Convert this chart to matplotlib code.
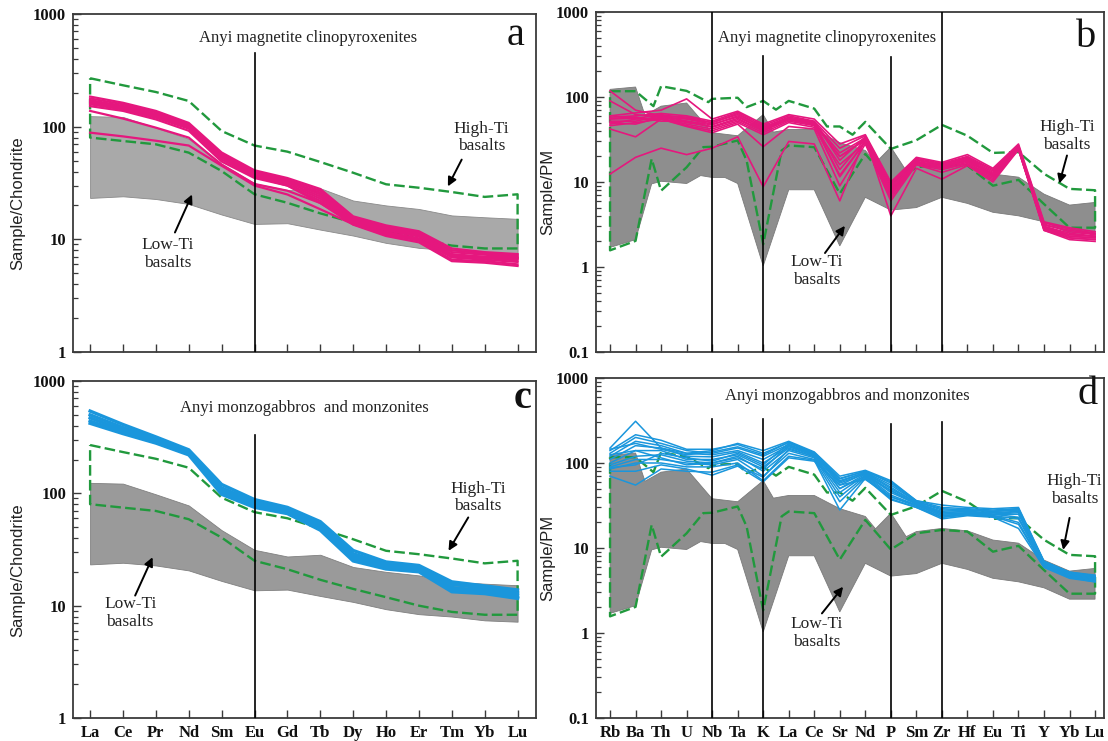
import numpy as np
import matplotlib
matplotlib.use("Agg")
import matplotlib.pyplot as plt
from matplotlib import ticker

# ---------------------------------------------------------------- data
REE = ["La", "Ce", "Pr", "Nd", "Sm", "Eu", "Gd", "Tb", "Dy", "Ho", "Er", "Tm", "Yb", "Lu"]
SPIDER = ["Rb", "Ba", "Th", "U", "Nb", "Ta", "K", "La", "Ce", "Sr", "Nd", "P",
          "Sm", "Zr", "Hf", "Eu", "Ti", "Y", "Yb", "Lu"]

# Chondrite-normalised fields of Emeishan basalts
high_ti_ree_upper = [269, 233, 203, 169, 91.5, 68, 60, 48.6, 39, 30.8, 28.7, 26.3, 23.8, 25.1]
high_ti_ree_lower = [80, 74.6, 69.7, 58.8, 40.4, 25.1, 21.1, 17, 14.1, 11.9, 10, 8.8, 8.3, 8.3]
low_ti_ree_upper = [124, 122, 98, 78, 47, 31.4, 27.4, 28.4, 22.1, 20, 18.6, 16.3, 15.7, 15.2]
low_ti_ree_lower = [23.3, 24.1, 22.8, 20.6, 16.6, 13.7, 13.9, 12.2, 10.8, 9.3, 8.4, 8.0, 7.4, 7.2]

# Primitive-mantle-normalised fields (element index, value)
high_ti_pm_upper_x = [0, 1, 1.7, 2, 3, 3.85, 4, 5, 5.35, 6, 6.5, 7, 8, 8.5, 9, 9.5, 10, 11, 12, 13, 14, 15, 16, 17, 18, 19]
high_ti_pm_upper = [117, 117, 78, 134, 118, 87, 95, 98, 76, 90, 71, 90, 73, 45, 45, 36, 51, 24.5, 31, 47, 35, 22, 22.5, 12.5, 8.3, 8.0]
high_ti_pm_lower_x = [0, 1, 1.63, 2, 3, 3.65, 4, 5, 5.35, 6, 6.72, 7, 8, 9, 10, 11, 12, 13, 14, 15, 16, 17, 18, 19]
high_ti_pm_lower = [1.57, 2.03, 18.7, 7.9, 14.9, 25.7, 26, 30.8, 17.9, 1.85, 23.5, 26.9, 25.7, 7.3, 21.4, 9.6, 14.9, 16.3, 15.6, 9.05, 10.6, 5.5, 2.9, 2.9]
low_ti_pm_upper_x = [0, 1, 1.37, 2, 3, 4, 5, 6, 6.4, 7, 8, 9, 10, 10.4, 11, 11.6, 12, 13, 14, 15, 16, 17, 18, 19]
low_ti_pm_upper = [123, 131, 61, 78, 85, 38, 35, 62, 38.6, 41.5, 41.5, 29, 23.5, 16.8, 25.7, 13.6, 15.6, 17, 15.9, 12.4, 11.4, 7.2, 5.35, 5.75]
low_ti_pm_lower_x = [0, 1, 1.63, 2, 3, 3.55, 4, 4.5, 5, 6, 7, 8, 9, 10, 11, 12, 13, 14, 15, 16, 17, 18, 19]
low_ti_pm_lower = [1.7, 2.1, 9.5, 10.2, 9.6, 11.9, 11.3, 11.3, 9.6, 1.03, 8.1, 8.1, 1.77, 6.6, 4.67, 5.0, 6.6, 5.6, 4.4, 4.0, 3.4, 2.5, 2.5]

# Anyi magnetite clinopyroxenites, REE / chondrite
cpx_ree = [
    [185, 163, 138, 108, 59, 41, 35, 28, 16.0, 13.3, 11.8, 8.3, 7.7, 7.4],
    [178, 158, 134, 105, 57, 40, 34, 27, 15.6, 13.0, 11.5, 8.0, 7.5, 7.2],
    [172, 153, 130, 103, 56, 39, 33, 26, 15.2, 12.6, 11.2, 7.7, 7.3, 7.0],
    [167, 149, 126, 100, 54, 38, 33, 25, 14.8, 12.3, 10.9, 7.4, 7.0, 6.7],
    [162, 145, 123, 98, 53, 37, 32, 24, 14.5, 12.0, 10.6, 7.1, 6.8, 6.5],
    [158, 142, 120, 96, 51, 36, 31, 23, 14.2, 11.6, 10.2, 6.9, 6.6, 6.3],
    [152, 138, 116, 92, 49, 35, 30, 22, 13.8, 11.2, 9.8, 6.6, 6.4, 6.0],
    [168, 150, 127, 101, 55, 36, 30, 21, 13.5, 10.7, 9.4, 6.4, 6.2, 5.8],
    [138, 118, 98, 80, 46, 31, 27, 21, 14.0, 11.5, 10.0, 7.0, 6.9, 6.8],
    [88.5, 82, 75, 68, 45, 30, 25, 18.5, 13.6, 11.0, 9.8, 7.2, 7.0, 6.9],
]

# Anyi magnetite clinopyroxenites, trace elements / primitive mantle
cpx_pm = [
    [118, 70, 60, 58, 50, 62, 44, 56, 50, 22, 33, 8.5, 18, 16, 19, 13, 26, 3.2, 2.6, 2.4],
    [90, 62, 58, 55, 48, 58, 42, 54, 48, 20, 32, 8.0, 17, 15.5, 18, 12.5, 25, 3.0, 2.5, 2.3],
    [58, 60, 64, 60, 52, 66, 46, 60, 52, 25, 35, 9.5, 19, 16.5, 20, 14, 27, 3.3, 2.8, 2.5],
    [55, 56, 62, 56, 50, 64, 44, 58, 51, 18, 34, 9.0, 18.5, 16, 19.5, 13.5, 26, 3.1, 2.7, 2.45],
    [52, 52, 60, 52, 47, 60, 42, 56, 49, 14, 32, 8.0, 17.5, 15.5, 18.5, 12.5, 25.5, 2.9, 2.4, 2.3],
    [50, 48, 58, 50, 45, 56, 40, 54, 47, 12, 30, 7.0, 17, 15, 17.5, 12, 25, 2.8, 2.3, 2.2],
    [48, 55, 56, 48, 42, 52, 38, 52, 46, 11.5, 30, 6.5, 16.5, 14.5, 17, 11.5, 24.5, 2.7, 2.2, 2.1],
    [46, 50, 55, 46, 40, 50, 36, 50, 44, 16, 29, 7.5, 16, 14, 16.5, 11, 24, 2.7, 2.1, 2.0],
    [42, 34, 55, 45, 38, 48, 26, 45, 42, 9.0, 28, 6.0, 16, 13, 16, 10.5, 24.5, 2.8, 2.2, 2.1],
    [12.4, 19.5, 25, 21, 25, 34, 8.8, 30, 28, 6.0, 33, 4.0, 14.5, 10.8, 15.6, 10, 24, 2.9, 2.3, 2.2],
    [60, 65, 70, 95, 55, 68, 48, 62, 55, 28, 36, 10, 19.5, 17, 21, 14.5, 28, 3.4, 2.9, 2.6],
    [56, 58, 52, 52, 44, 54, 40, 55, 50, 20, 31, 7.5, 17, 15, 18, 12, 25, 3.0, 2.4, 2.3],
]

# Anyi monzogabbros and monzonites, REE / chondrite
mz_ree = [
    [540, 410, 318, 244, 120, 88, 75, 56, 31, 24.5, 22.8, 16.3, 15.0, 13.8],
    [500, 385, 305, 235, 112, 84, 72, 53, 29, 23.5, 22, 15.5, 14.3, 13.0],
    [470, 365, 295, 230, 106, 80, 70, 51, 27.5, 22.5, 21, 14.5, 13.6, 12.4],
    [440, 350, 285, 225, 102, 77, 67, 48, 26, 21.8, 20.5, 13.8, 13.0, 11.8],
    [420, 340, 280, 220, 98, 75, 66, 47, 25, 21.2, 20, 13.3, 12.8, 11.6],
]

# Anyi monzogabbros and monzonites, trace elements / primitive mantle
mz_pm = [
    [150, 310, 150, 130, 140, 170, 140, 180, 135, 70, 82, 62, 36, 32, 30, 29, 30, 7.0, 5.2, 4.8],
    [140, 215, 185, 145, 145, 165, 130, 175, 130, 65, 80, 60, 36, 30, 29, 28, 29, 6.8, 5.1, 4.6],
    [130, 200, 170, 140, 130, 150, 120, 165, 128, 60, 78, 55, 35, 28, 28, 27, 28, 6.6, 5.0, 4.5],
    [120, 180, 160, 130, 125, 140, 110, 160, 125, 55, 76, 50, 34, 26, 27, 26, 27, 6.5, 4.9, 4.4],
    [110, 160, 150, 120, 118, 135, 100, 155, 122, 50, 74, 45, 33, 25, 26, 25, 26, 6.4, 4.8, 4.3],
    [100, 140, 140, 110, 110, 125, 90, 150, 118, 45, 72, 42, 32, 24, 25.5, 24.5, 25, 6.3, 4.7, 4.2],
    [95, 120, 125, 105, 100, 120, 80, 140, 115, 40, 70, 40, 31, 23, 25, 24, 22, 6.2, 4.6, 4.1],
    [90, 110, 110, 100, 95, 110, 70, 130, 110, 35, 68, 38, 30, 23, 24.5, 23.5, 19, 6.0, 4.5, 4.0],
    [85, 100, 100, 90, 90, 100, 62, 120, 108, 28, 66, 37, 30, 22, 24, 23, 17, 5.9, 4.4, 4.0],
    [80, 80, 95, 85, 72, 92, 60, 115, 105, 55, 64, 40, 32, 24, 25, 24, 20, 6.1, 4.6, 4.2],
    [70, 55, 85, 80, 78, 95, 68, 145, 120, 50, 70, 48, 33, 26, 27, 25, 23, 6.4, 4.8, 4.3],
    [88, 95, 130, 115, 105, 130, 95, 170, 132, 62, 77, 52, 34, 27, 28, 27, 28, 6.8, 5.0, 4.6],
    [125, 140, 115, 95, 100, 115, 85, 160, 125, 58, 75, 47, 33, 25, 26, 25, 27, 6.5, 4.9, 4.4],
    [145, 170, 145, 125, 135, 155, 125, 175, 132, 66, 80, 58, 35, 29, 28, 27, 29, 6.9, 5.2, 4.7],
]

# ---------------------------------------------------------------- style
SERIF = "Liberation Serif"
SANS = "Liberation Sans"
GREEN = "#21993d"
PINK = "#e5177e"
BLUE = "#1a96dc"
SPINE = "#3a3a3a"

fig = plt.figure(figsize=(11.08, 7.41), dpi=100)
W, H = 1108, 741


def make_axes(left, top, right, bottom):
    return fig.add_axes([left / W, 1 - bottom / H, (right - left) / W, (bottom - top) / H])


ax_a = make_axes(73, 14, 536, 352)
ax_b = make_axes(596, 12, 1104, 352)
ax_c = make_axes(73, 381, 536, 718)
ax_d = make_axes(596, 378, 1104, 718)


def style(ax, labels, ylim, xlim, ylabel, show_xlabels, label_x, label_y):
    ax.set_yscale("log")
    ax.set_ylim(*ylim)
    ax.set_xlim(*xlim)
    ax.set_xticks(range(len(labels)))
    if show_xlabels:
        ax.set_xticklabels(labels, fontfamily=SERIF, fontweight="bold", fontsize=12)
    else:
        ax.set_xticklabels([])
    ax.yaxis.set_major_locator(ticker.LogLocator(base=10))
    ax.yaxis.set_minor_locator(ticker.LogLocator(base=10, subs=np.arange(2, 10)))
    ax.yaxis.set_minor_formatter(ticker.NullFormatter())
    ax.yaxis.set_major_formatter(ticker.FuncFormatter(lambda v, _: f"{v:g}"))
    for lab in ax.get_yticklabels():
        lab.set_fontfamily(SERIF)
        lab.set_fontweight("bold")
        lab.set_fontsize(12)
    ax.tick_params(axis="both", which="major", direction="in", length=6, width=1.0,
                   colors=SPINE, labelcolor="#111111", top=False, right=False, pad=5)
    ax.tick_params(axis="y", which="minor", direction="in", length=3.5, width=0.9,
                   colors=SPINE, right=False)
    ax.tick_params(axis="x", which="minor", bottom=False, top=False)
    for sp in ax.spines.values():
        sp.set_color(SPINE)
        sp.set_linewidth(1.3)
    ax.set_ylabel(ylabel, fontfamily=SANS, fontsize=12, color="#222222")
    ax.yaxis.set_label_coords(label_x, label_y)


def dashed(ax, x, y):
    line, = ax.plot(x, y, color=GREEN, lw=1.7, zorder=2)
    line.set_dashes([4.5, 1.8])


def envelope(ax, xu, yu, xl, yl):
    xs = list(xu) + list(xl[::-1]) + [xu[0]]
    ys = list(yu) + list(yl[::-1]) + [yu[0]]
    dashed(ax, xs, ys)


def label_pair(ax, high_text, high_tail, high_head, low_text, low_tail, low_head):
    kw = dict(fontfamily=SERIF, fontsize=12.5, ha="center", va="center",
              linespacing=1.15, color="#222222", zorder=6)
    ax.text(*high_text, "High-Ti\nbasalts", **kw)
    ax.text(*low_text, "Low-Ti\nbasalts", **kw)
    arrow = dict(arrowstyle="-|>", color="black", lw=1.4, mutation_scale=13,
                 shrinkA=0, shrinkB=0)
    ax.annotate("", xy=high_head, xytext=high_tail, arrowprops=arrow, zorder=6)
    ax.annotate("", xy=low_head, xytext=low_tail, arrowprops=arrow, zorder=6)


def vline(ax, x, top, bottom):
    ax.plot([x, x], [bottom, top], color="black", lw=1.2, zorder=5)


ree_x = np.arange(len(REE))
pm_x = np.arange(len(SPIDER))

# ---- panel a: clinopyroxenites, REE
ax = ax_a
ax.fill_between(ree_x, low_ti_ree_lower, low_ti_ree_upper, color="#a9a9a9",
                edgecolor="#8a8a8a", lw=0.6, zorder=1)
envelope(ax, ree_x, high_ti_ree_upper, ree_x, high_ti_ree_lower)
for row in cpx_ree:
    ax.plot(ree_x, row, color=PINK, lw=1.6, zorder=3)
vline(ax, 5, 454, 1)
style(ax, REE, (1, 1000), (-0.52, 13.56), "Sample/Chondrite", False, -0.104, 0.44)
ax.text(0.508, 0.93, "Anyi magnetite clinopyroxenites", transform=ax.transAxes,
        fontfamily=SERIF, fontsize=12, ha="center", va="center", color="#222222")
ax.text(0.955, 0.935, "a", transform=ax.transAxes, fontfamily=SERIF, fontsize=29,
        ha="center", va="center", color="#111111")
label_pair(ax, (11.9, 80), (11.3, 51), (10.88, 29.5),
           (2.37, 7.4), (2.58, 11.5), (3.1, 25))

# ---- panel b: clinopyroxenites, spider diagram
ax = ax_b
ax.fill(list(low_ti_pm_upper_x) + list(low_ti_pm_lower_x[::-1]),
        list(low_ti_pm_upper) + list(low_ti_pm_lower[::-1]),
        color="#8e8e8e", edgecolor="#7a7a7a", lw=0.6, zorder=1)
envelope(ax, high_ti_pm_upper_x, high_ti_pm_upper, high_ti_pm_lower_x, high_ti_pm_lower)
for row in cpx_pm:
    ax.plot(pm_x, row, color=PINK, lw=1.2, zorder=3)
vline(ax, 4, 1000, 0.1)
vline(ax, 6, 300, 0.1)
vline(ax, 11, 292, 0.1)
vline(ax, 13, 1000, 0.1)
style(ax, SPIDER, (0.1, 1000), (-0.55, 19.35), "Sample/PM", False, -0.081, 0.47)
ax.text(0.455, 0.923, "Anyi magnetite clinopyroxenites", transform=ax.transAxes,
        fontfamily=SERIF, fontsize=12, ha="center", va="center", color="#222222")
ax.text(0.965, 0.926, "b", transform=ax.transAxes, fontfamily=SERIF, fontsize=29,
        ha="center", va="center", color="#111111")
label_pair(ax, (17.9, 35), (17.9, 20.5), (17.6, 9.6),
           (8.1, 0.9), (8.42, 1.46), (9.2, 3.05))

# ---- panel c: monzogabbros and monzonites, REE
ax = ax_c
ax.fill_between(ree_x, low_ti_ree_lower, low_ti_ree_upper, color="#9a9a9a",
                edgecolor="#808080", lw=0.6, zorder=1)
envelope(ax, ree_x, high_ti_ree_upper, ree_x, high_ti_ree_lower)
for row in mz_ree:
    ax.plot(ree_x, row, color=BLUE, lw=2.4, zorder=3)
vline(ax, 5, 331, 1)
style(ax, REE, (1, 1000), (-0.52, 13.56), "Sample/Chondrite", True, -0.104, 0.44)
ax.text(0.50, 0.92, "Anyi monzogabbros  and monzonites", transform=ax.transAxes,
        fontfamily=SERIF, fontsize=12, ha="center", va="center", color="#222222")
ax.text(0.97, 0.947, "c", transform=ax.transAxes, fontfamily=SERIF, fontsize=29,
        fontweight="bold", ha="center", va="center", color="#111111")
label_pair(ax, (11.8, 92), (11.5, 61), (10.9, 30.8),
           (1.22, 8.6), (1.37, 12.3), (1.9, 27))

# ---- panel d: monzogabbros and monzonites, spider diagram
ax = ax_d
ax.fill(list(low_ti_pm_upper_x) + list(low_ti_pm_lower_x[::-1]),
        list(low_ti_pm_upper) + list(low_ti_pm_lower[::-1]),
        color="#8e8e8e", edgecolor="#7a7a7a", lw=0.6, zorder=1)
envelope(ax, high_ti_pm_upper_x, high_ti_pm_upper, high_ti_pm_lower_x, high_ti_pm_lower)
for row in mz_pm:
    ax.plot(pm_x, row, color=BLUE, lw=1.1, zorder=3)
vline(ax, 4, 325, 0.1)
vline(ax, 6, 325, 0.1)
vline(ax, 11, 288, 0.1)
vline(ax, 13, 302, 0.1)
style(ax, SPIDER, (0.1, 1000), (-0.55, 19.35), "Sample/PM", True, -0.081, 0.47)
ax.text(0.494, 0.947, "Anyi monzogabbros and monzonites", transform=ax.transAxes,
        fontfamily=SERIF, fontsize=12, ha="center", va="center", color="#222222")
ax.text(0.968, 0.95, "d", transform=ax.transAxes, fontfamily=SERIF, fontsize=29,
        ha="center", va="center", color="#111111")
label_pair(ax, (18.2, 48), (18.0, 22.6), (17.75, 9.5),
           (8.1, 1.0), (8.3, 1.7), (9.13, 3.5))

fig.savefig("out.png", dpi=100, facecolor="white")
